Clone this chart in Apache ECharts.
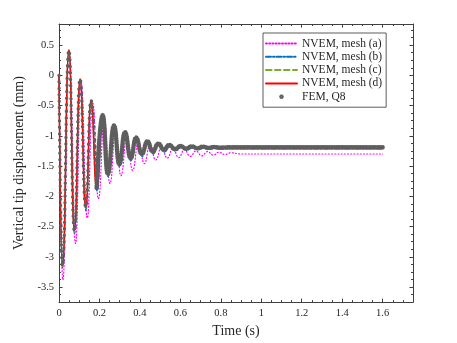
<!DOCTYPE html>
<html>
<head>
<meta charset="utf-8">
<script src="https://cdn.jsdelivr.net/npm/echarts@6/dist/echarts.min.js"></script>
<style>
html, body { margin: 0; padding: 0; background: #fff; }
#chart { width: 457px; height: 343px; }
</style>
</head>
<body>
<div id="chart"></div>
<script>
// turning points (peaks / troughs), time in s, displacement in mm
const tA = [0, 0.019, 0.050, 0.082, 0.108, 0.140, 0.166, 0.195, 0.224, 0.252, 0.280, 0.306, 0.336, 0.364, 0.393, 0.422, 0.450, 0.478, 0.507, 0.535, 0.563, 0.592, 0.620, 0.649, 0.677, 0.706, 0.734, 0.763, 0.791, 0.820, 0.850, 0.900, 1.000, 1.600]
const yA = [0, -3.38, 0.42, -2.78, -0.08, -2.36, -0.45, -2.04, -0.72, -1.79, -0.90, -1.66, -1.01, -1.57, -1.09, -1.46, -1.14, -1.40, -1.18, -1.37, -1.21, -1.36, -1.23, -1.34, -1.25, -1.33, -1.26, -1.32, -1.27, -1.31, -1.28, -1.30, -1.30, -1.30]

const tB = [0, 0.017, 0.049, 0.077, 0.105, 0.133, 0.159, 0.188, 0.218, 0.243, 0.274, 0.300, 0.328, 0.357, 0.384, 0.412, 0.440, 0.466, 0.494, 0.521, 0.549, 0.577, 0.605, 0.632, 0.660, 0.688, 0.716, 0.744, 0.772, 0.800, 0.860, 1.000, 1.600]
const yB = [0, -3.18, 0.42, -2.62, -0.07, -2.24, -0.43, -1.91, -0.68, -1.68, -0.85, -1.51, -0.96, -1.41, -1.05, -1.34, -1.11, -1.30, -1.15, -1.27, -1.18, -1.25, -1.19, -1.24, -1.20, -1.23, -1.205, -1.225, -1.21, -1.22, -1.215, -1.215, -1.215]

// mesh (c), mesh (d) and FEM share the same turning times
const tRef = [0, 0.017, 0.049, 0.076, 0.104, 0.132, 0.158, 0.186, 0.216, 0.241, 0.272, 0.298, 0.326, 0.354, 0.381, 0.409, 0.437, 0.463, 0.491, 0.518, 0.545, 0.573, 0.601, 0.628, 0.656, 0.684, 0.711, 0.739, 0.766, 0.794, 0.850, 1.000, 1.600]
const yC = [0, -3.16, 0.42, -2.59, -0.06, -2.20, -0.41, -1.88, -0.66, -1.65, -0.83, -1.49, -0.94, -1.39, -1.03, -1.32, -1.09, -1.28, -1.13, -1.25, -1.15, -1.235, -1.17, -1.225, -1.18, -1.215, -1.19, -1.21, -1.195, -1.21, -1.21, -1.21, -1.21]
const yD = [0, -3.15, 0.42, -2.57, -0.06, -2.18, -0.41, -1.86, -0.66, -1.63, -0.83, -1.47, -0.94, -1.37, -1.03, -1.30, -1.09, -1.26, -1.13, -1.23, -1.15, -1.22, -1.17, -1.21, -1.175, -1.205, -1.18, -1.20, -1.185, -1.195, -1.19, -1.19, -1.19]
const yFEM = [0, -3.15, 0.42, -2.57, -0.06, -2.18, -0.41, -1.86, -0.66, -1.63, -0.83, -1.47, -0.94, -1.37, -1.03, -1.30, -1.09, -1.26, -1.13, -1.23, -1.15, -1.22, -1.17, -1.21, -1.175, -1.205, -1.18, -1.20, -1.185, -1.195, -1.19, -1.19, -1.19]

const names = ['NVEM, mesh (a)', 'NVEM, mesh (b)', 'NVEM, mesh (c)', 'NVEM, mesh (d)', 'FEM, Q8']

const font = '"Liberation Serif", "DejaVu Serif", serif'
const axisCol = '#404040'
const txtCol = '#262626'
const femCol = '#5e5e5e'

const pairs = (t, y) => t.map((v, i) => [v, y[i]])

const mk = (name, data, color, width, type) => ({
  name: name,
  type: 'line',
  data: data,
  smooth: 0.5,
  smoothMonotone: 'x',
  symbol: 'none',
  silent: true,
  itemStyle: {color: color},
  lineStyle: {color: color, width: width, type: type, cap: 'round'}
})

// FEM markers: sparse where the swing is fast (first cycles), packed into a band after
const femAll = pairs(tRef, yFEM)
const cut = tRef.findIndex(t => t >= 0.186)
const femFast = femAll.slice(0, cut + 1)
const femSlow = femAll.slice(cut)

const axisBase = {
  type: 'value',
  axisLine: {show: true, onZero: false, lineStyle: {color: axisCol, width: 1}},
  axisTick: {show: true, inside: true, length: 3.5, lineStyle: {color: axisCol, width: 1}},
  minorTick: {show: true, splitNumber: 4, length: 2, lineStyle: {color: axisCol, width: 1}},
  splitLine: {show: false},
  minorSplitLine: {show: false}
}

const xBottom = Object.assign({}, axisBase, {
  position: 'bottom', min: 0, max: 1.75, interval: 0.2,
  name: 'Time (s)', nameLocation: 'middle', nameGap: 15,
  nameTextStyle: {fontFamily: font, fontSize: 14, color: txtCol},
  axisLabel: {fontFamily: font, fontSize: 10.5, color: txtCol, margin: 6, showMaxLabel: false}
})
const xTop = Object.assign({}, axisBase, {
  position: 'top', min: 0, max: 1.75, interval: 0.2,
  axisLabel: {show: false}
})
const yLeft = Object.assign({}, axisBase, {
  position: 'left', min: -3.75, max: 0.85, splitNumber: 9,
  name: 'Vertical tip displacement (mm)', nameLocation: 'middle', nameGap: 25,
  nameTextStyle: {fontFamily: font, fontSize: 14, color: txtCol},
  axisLabel: {fontFamily: font, fontSize: 10.5, color: txtCol, margin: 5, showMinLabel: false, showMaxLabel: false}
})
const yRight = Object.assign({}, axisBase, {
  position: 'right', min: -3.75, max: 0.85, splitNumber: 9,
  axisLabel: {show: false}
})

// hide the dot that echarts puts in the middle of line legend icons
const noDot = {color: 'rgba(0,0,0,0)', borderWidth: 0, opacity: 0}

const chart = echarts.init(document.getElementById('chart'), null, {renderer: 'canvas'})
chart.setOption({
  animation: false,
  backgroundColor: '#fff',
  grid: {left: 59, top: 24, width: 354, height: 280, containLabel: false},
  xAxis: [xBottom, xTop],
  yAxis: [yLeft, yRight],
  legend: {
    orient: 'vertical',
    left: 263,
    top: 33,
    padding: [4, 4, 4, 2],
    itemWidth: 31,
    itemHeight: 4,
    itemGap: 0.3,
    selectedMode: false,
    backgroundColor: '#fff',
    borderColor: '#333',
    borderWidth: 0.8,
    textStyle: {fontFamily: font, fontSize: 11.5, color: txtCol, lineHeight: 13},
    data: [
      {name: names[0], itemStyle: noDot},
      {name: names[1], itemStyle: noDot},
      {name: names[2], itemStyle: noDot},
      {name: names[3], itemStyle: noDot},
      {name: names[4], icon: 'circle', itemStyle: {color: '#6a6a6a', borderColor: '#444', borderWidth: 0.5}}
    ]
  },
  series: [
    mk(names[0], pairs(tA, yA), '#ff00ff', 1.2, [1, 2.2]),
    mk(names[1], pairs(tB, yB), '#0072bd', 1.2, [5, 2, 1.5, 2]),
    mk(names[2], pairs(tRef, yC), '#77ac30', 1.2, [5.5, 3.5]),
    mk(names[3], pairs(tRef, yD), '#ff0000', 1.5, 'solid'),
    mk(names[4], femFast, femCol, 3.4, [0.01, 6.5]),
    mk(names[4], femSlow, femCol, 4.6, [0.01, 2.2])
  ]
})
</script>
</body>
</html>
